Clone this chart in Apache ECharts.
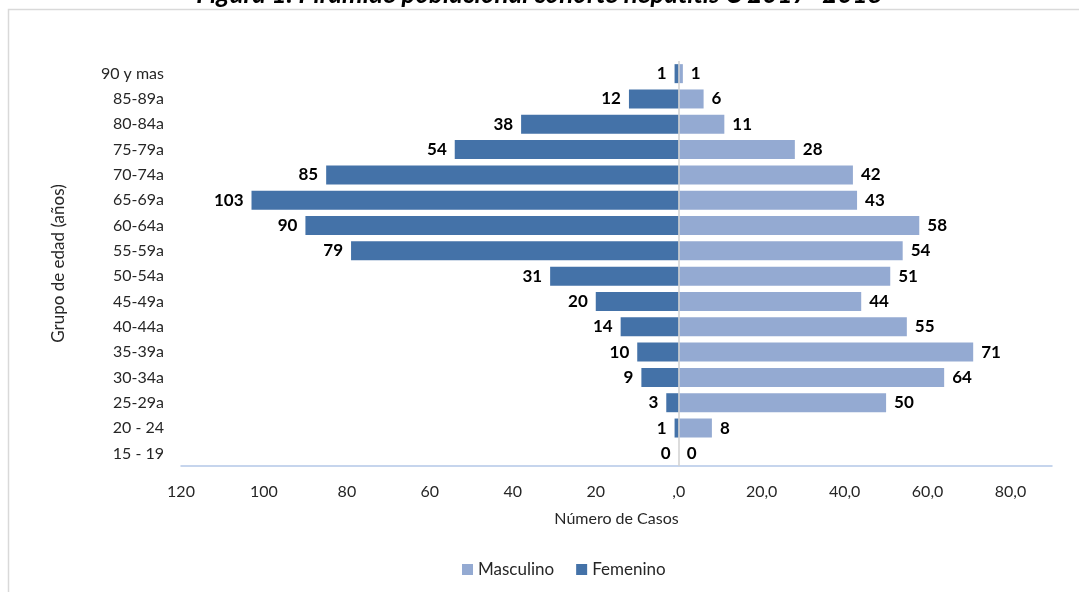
<!DOCTYPE html>
<html>
<head>
<meta charset="utf-8">
<title>Pirámide poblacional</title>
<script src="https://cdn.jsdelivr.net/npm/echarts@6/dist/echarts.min.js"></script>
<style>
  html, body { margin: 0; padding: 0; background: #fff; }
  #chart { width: 1079px; height: 592px; }
</style>
</head>
<body>
<div id="chart"></div>
<script>
  // grupos de edad, de arriba hacia abajo
  var grupos = ['90 y mas', '85-89a', '80-84a', '75-79a', '70-74a', '65-69a', '60-64a', '55-59a',
    '50-54a', '45-49a', '40-44a', '35-39a', '30-34a', '25-29a', '20 - 24', '15 - 19'];
  var masculino = [1, 6, 11, 28, 42, 43, 58, 54, 51, 44, 55, 71, 64, 50, 8, 0];
  var femenino = [1, 12, 38, 54, 85, 103, 90, 79, 31, 20, 14, 10, 9, 3, 1, 0];

  var fuente = 'Lato, "Open Sans", sans-serif';
  var chart = echarts.init(document.getElementById('chart'));

  chart.setOption({
    animation: false,
    textStyle: {fontFamily: fuente},
    graphic: [{
      type: 'rect',
      shape: {x: 8.5, y: 9.5, width: 1200, height: 700},
      style: {fill: 'none', stroke: '#d9d9d9', lineWidth: 1.5},
      silent: true
    }],
    title: {
      text: 'Figura 1. Pirámide poblacional cohorte hepatitis C 2017- 2018',
      left: 'center',
      top: -23,
      textStyle: {fontSize: 26, fontStyle: 'italic', fontWeight: 'bold', color: '#000', fontFamily: fuente}
    },
    legend: {
      bottom: 9,
      left: 457,
      icon: 'rect',
      itemWidth: 11,
      itemHeight: 11,
      itemGap: 22,
      textStyle: {fontSize: 17, color: '#262626'},
      data: ['Masculino', 'Femenino']
    },
    grid: {left: 181, right: 27, top: 61, bottom: 126},
    xAxis: {
      type: 'value',
      min: -120,
      max: 90,
      interval: 20,
      name: 'Número de Casos',
      nameLocation: 'middle',
      nameGap: 45,
      nameTextStyle: {fontSize: 16, color: '#262626'},
      axisLine: {show: true, lineStyle: {color: '#b4c7e7', width: 1.5}},
      axisTick: {show: false},
      splitLine: {show: false},
      axisLabel: {
        fontSize: 16,
        color: '#262626',
        margin: 18,
        showMaxLabel: false,
        formatter: function (v) {
          if (v < 0) return String(-v);
          if (v === 0) return ',0';
          return v + ',0';
        }
      }
    },
    yAxis: {
      type: 'category',
      inverse: true,
      data: grupos,
      name: 'Grupo de edad (años)',
      nameLocation: 'middle',
      nameRotate: 90,
      nameGap: 114,
      nameTextStyle: {fontSize: 17, color: '#262626'},
      axisLine: {show: false},
      axisTick: {show: false},
      axisLabel: {fontSize: 16, color: '#262626', margin: 17}
    },
    series: [
      {
        name: 'Masculino',
        type: 'bar',
        data: masculino,
        barWidth: 19,
        barGap: '-100%',
        itemStyle: {color: '#94aad2'},
        label: {
          show: true,
          position: 'right',
          distance: 8,
          fontSize: 17,
          fontWeight: 'bold',
          color: '#000'
        }
      },
      {
        name: 'Femenino',
        type: 'bar',
        data: femenino.map(function (v) { return -v; }),
        barWidth: 19,
        barGap: '-100%',
        itemStyle: {color: '#4472a8'},
        label: {
          show: true,
          position: 'left',
          distance: 8,
          fontSize: 17,
          fontWeight: 'bold',
          color: '#000',
          formatter: function (p) { return String(Math.abs(p.value)); }
        },
        markLine: {
          silent: true,
          symbol: 'none',
          label: {show: false},
          lineStyle: {color: '#d0d0d0', width: 1.5, type: 'solid'},
          data: [{xAxis: 0}]
        }
      }
    ]
  });
</script>
</body>
</html>
